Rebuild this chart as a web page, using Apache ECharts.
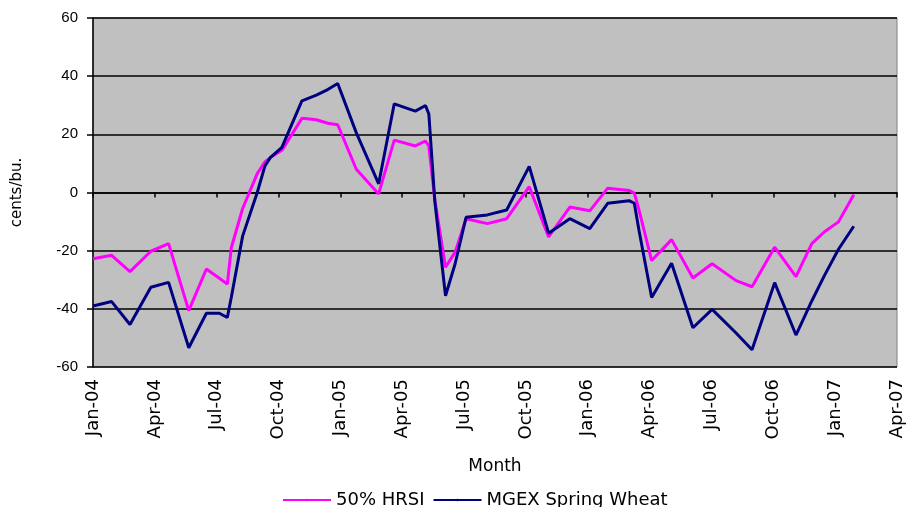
<!DOCTYPE html>
<html>
<head>
<meta charset="utf-8">
<script src="https://cdn.jsdelivr.net/npm/echarts@6/dist/echarts.min.js"></script>
<style>
  html, body { margin: 0; padding: 0; background: #fff; }
  #chart { width: 906px; height: 507px; }
</style>
</head>
<body>
<div id="chart"></div>
<script>
  // observation dates (roughly monthly)
  var dates = [
    '2004-01-01','2004-01-29','2004-02-24','2004-03-26','2004-04-21','2004-05-21','2004-06-16','2004-07-05',
    '2004-07-17','2004-07-23','2004-08-09','2004-08-31','2004-09-11','2004-09-19','2004-10-06','2004-11-05',
    '2004-11-26','2004-12-13','2004-12-28','2005-01-25','2005-02-25','2005-03-20','2005-04-20','2005-05-05',
    '2005-05-10','2005-05-19','2005-06-04','2005-06-18','2005-07-04','2005-08-05','2005-09-03','2005-10-06',
    '2005-11-04','2005-12-05','2006-01-04','2006-01-31','2006-03-01','2006-03-09','2006-03-16','2006-04-04',
    '2006-05-03','2006-06-04','2006-07-02','2006-08-07','2006-08-31','2006-10-03','2006-11-04','2006-11-27',
    '2006-12-16','2007-01-06','2007-01-29'
  ]
  var hrsi = [
    -22.8, -21.6, -27.2, -20.2, -17.6, -40.6, -26.3, -29.5,
    -31.5, -19, -5.5, 6.5, 10.5, 12, 14.5, 25.5,
    25, 23.8, 23.3, 8, -0.5, 18, 16, 17.7,
    16, -2.5, -25.7, -20.5, -9, -10.7, -9, 2,
    -15.3, -5, -6.3, 1.5, 0.7, -0.2, -6, -23.4,
    -16.2, -29.4, -24.5, -30.3, -32.4, -18.8, -28.9, -17.6,
    -13.5, -10.1, -0.8
  ]
  var mgex = [
    -39, -37.5, -45.4, -32.6, -30.9, -53.4, -41.5, -41.5,
    -43, -36, -15, 0, 9, 12, 15.5, 31.5,
    33.5, 35.4, 37.5, 20.5, 3, 30.5, 28, 29.9,
    27, -3, -35.5, -24.5, -8.5, -7.7, -6, 9,
    -14, -9, -12.4, -3.7, -2.8, -3.7, -13, -36.1,
    -24.3, -46.5, -40.2, -48.3, -54.1, -31, -49, -37.3,
    -28.5, -19.5, -11.6
  ]
  var tickLabels = ['Jan-04','Apr-04','Jul-04','Oct-04','Jan-05','Apr-05','Jul-05','Oct-05',
                    'Jan-06','Apr-06','Jul-06','Oct-06','Jan-07','Apr-07']
  var yTicks = [-60, -40, -20, 0, 20, 40, 60]

  // months since Jan-04
  function monthOffset(s){
    var p = s.split('-').map(Number)
    var dim = new Date(p[0], p[1], 0).getDate()
    return (p[0] - 2004) * 12 + (p[1] - 1) + (p[2] - 1) / dim
  }
  function pairs(vals){
    return dates.map(function(d, i){ return [monthOffset(d), vals[i]] })
  }

  var font = '"Liberation Sans", Arial, sans-serif'
  var wide = '"DejaVu Sans", sans-serif'
  var xMax = (tickLabels.length - 1) * 3

  var chart = echarts.init(document.getElementById('chart'))
  chart.setOption({
    backgroundColor: '#fff',
    animation: false,
    textStyle: { fontFamily: font, color: '#000' },
    grid: {
      left: 93, right: 3, top: 18, bottom: 140,
      show: true, backgroundColor: '#c0c0c0', borderColor: '#808080', borderWidth: 1
    },
    legend: {
      bottom: -7, left: 277, itemGap: 8, itemWidth: 48, itemHeight: 3,
      textStyle: { fontFamily: wide, fontSize: 18, color: '#000' },
      data: ['50% HRSI', 'MGEX Spring Wheat']
    },
    xAxis: [
      {
        type: 'value', min: 0, max: xMax, interval: 3,
        axisLine: { onZero: true, lineStyle: { color: '#000', width: 1.5 } },
        axisTick: { show: true, length: 5, lineStyle: { color: '#000', width: 1.5 } },
        axisLabel: { show: false },
        splitLine: { show: false }
      },
      {
        type: 'value', min: 0, max: xMax, interval: 3, position: 'bottom',
        axisLine: { onZero: false, show: false },
        axisTick: { show: false },
        axisLabel: {
          rotate: 90, margin: 12, fontSize: 18, color: '#000', fontFamily: wide,
          formatter: function(v){ return tickLabels[Math.round(v / 3)] }
        },
        splitLine: { show: false },
        name: 'Month', nameLocation: 'middle', nameGap: 91,
        nameTextStyle: { fontSize: 17, color: '#000', fontFamily: wide }
      }
    ],
    yAxis: {
      type: 'value', min: -60, max: 60, interval: 20,
      axisLine: { show: true, lineStyle: { color: '#000', width: 1.5 } },
      axisTick: { show: true, length: 6, lineStyle: { color: '#000', width: 1.5 } },
      axisLabel: {
        margin: 15, fontSize: 15, color: '#000', fontFamily: font,
        customValues: yTicks
      },
      splitLine: { show: true, lineStyle: { color: '#000', width: 1.5 } },
      name: 'cents/bu.', nameLocation: 'middle', nameGap: 68, nameRotate: 90,
      nameTextStyle: { fontSize: 15, color: '#000', fontFamily: wide }
    },
    series: [
      {
        name: '50% HRSI', type: 'line', xAxisIndex: 0, data: pairs(hrsi),
        symbol: 'none', lineStyle: { color: '#ff00ff', width: 3 }, itemStyle: { color: '#ff00ff' }
      },
      {
        name: 'MGEX Spring Wheat', type: 'line', xAxisIndex: 0, data: pairs(mgex),
        symbol: 'none', lineStyle: { color: '#000080', width: 3 }, itemStyle: { color: '#000080' }
      }
    ]
  })
</script>
</body>
</html>
